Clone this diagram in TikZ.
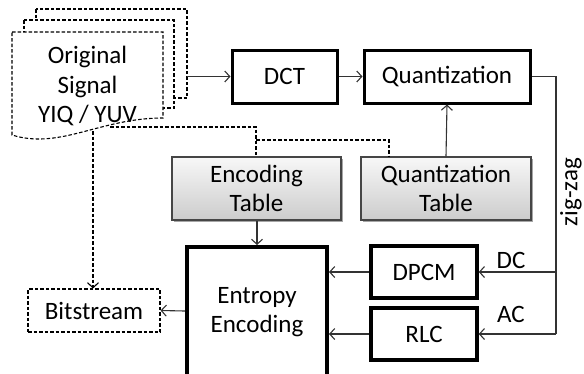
\documentclass[tikz,border=0pt]{standalone}
\usepackage{fontspec}
\setmainfont{Carlito}
\usetikzlibrary{arrows.meta,shadows}
\begin{document}
\begin{tikzpicture}[x=1pt,y=-1pt,
  every node/.style={font=\fontsize{25}{29.5}\selectfont, align=center, inner sep=0pt},
  blk/.style={draw=black, line width=3pt, fill=white},
  tbl/.style={draw=gray!55!black, line width=1.2pt, top color=gray!6, bottom color=gray!40,
    drop shadow={shadow xshift=2pt, shadow yshift=-2pt, opacity=0.35, fill=black}},
  conn/.style={draw=black!80, line width=1.1pt, -{Straight Barb[length=5pt,width=11pt]}},
  line/.style={draw=black!80, line width=1.1pt},
  dsh/.style={draw=black, line width=1.1pt, dash pattern=on 3.5pt off 2pt},
  pagebox/.style={draw=black, line width=1.1pt, dash pattern=on 3.5pt off 2pt, fill=white}]
\useasboundingbox (0,0) rectangle (584,373);
\begin{scope}
\clip (0,0) rectangle (584,373);
% document stack
\draw[pagebox] (36,9) rectangle (187,98);
\draw[pagebox] (24,20) rectangle (174,108);
\draw[pagebox] (12,32) -- (163,32) -- (163,118) .. controls (100,118) and (60,150) .. (12,135) -- cycle;
\node (doc) at (87.5,86) {Original\\Signal\\YIQ / YUV};
\coordinate (docR) at (187,76.5);
\coordinate (docB) at (93,131);
\coordinate (docW) at (110,127);
% boxes
\node[blk, minimum width=105pt, minimum height=53pt] (dct) at (284.5,76.5) {DCT};
\node[blk, minimum width=166pt, minimum height=53pt] (quant) at (447,76.5) {Quantization};
\node[tbl, minimum width=169pt, minimum height=63pt] (enct) at (256.5,188.5) {Encoding\\Table};
\node[tbl, minimum width=170pt, minimum height=63pt] (qt) at (446,188.5) {Quantization\\Table};
\draw[black, line width=4.5pt, fill=white] (187,247) rectangle (327,385);
\node[minimum width=140pt, minimum height=130pt] (ent) at (257,312) {Entropy\\Encoding};
\node[blk, line width=3.5pt, minimum width=106pt, minimum height=52pt] (dpcm) at (424,272) {DPCM};
\node[blk, line width=3.5pt, minimum width=106pt, minimum height=52pt] (rlc) at (424,334) {RLC};
\node[pagebox, minimum width=132pt, minimum height=43pt] (bit) at (94,310.5) {Bitstream};
% connectors
\draw[conn] (docR) -- (dct.west);
\draw[conn] (dct.east) -- (quant.west);
\draw[conn] (qt.north) -- (quant.south);
\coordinate (zz) at (556,76.5);
\coordinate (dcp) at (556,272);
\coordinate (acp) at (556,334);
\draw[line] (quant.east) -- (zz) -- (acp);
\draw[conn] (dcp) -- (dpcm.east);
\draw[conn] (acp) -- (rlc.east);
\coordinate (entR1) at (329,272);
\coordinate (entR2) at (329,334);
\coordinate (entL) at (185,311);
\coordinate (entT) at (257,245);
\draw[conn] (dpcm.west) -- (entR1);
\draw[conn] (rlc.west) -- (entR2);
\draw[conn] (entL) -- (bit.east);
\draw[conn] (enct.south -| entT) -- (entT);
% dashed from document
\draw[dsh, -{Straight Barb[length=5pt,width=11pt]}] (docB) -- (docB |- bit.north);
\coordinate (j1) at (256,127);
\coordinate (j2) at (256,140);
\coordinate (j3) at (389,140);
\draw[dsh] (docW) -- (j1) -- (j1 |- enct.north);
\draw[dsh] (j2) -- (j3) -- (j3 |- qt.north);
% labels
\node (dc) at (511,260) {DC};
\node (ac) at (511,314) {AC};
\node[rotate=90] (zzl) at (571,192) {zig-zag};
\end{scope}
\end{tikzpicture}
\end{document}
